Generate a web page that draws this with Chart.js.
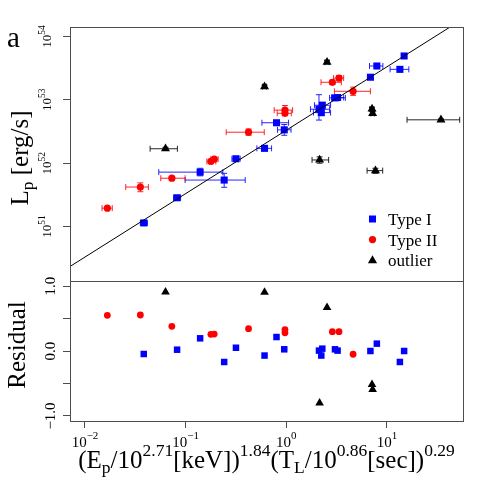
<!DOCTYPE html>
<html>
<head>
<meta charset="utf-8">
<script src="https://cdn.jsdelivr.net/npm/chart.js@4.4.1/dist/chart.umd.min.js"></script>
<style>
  html, body { margin: 0; padding: 0; background: #fff; }
  #wrap { position: relative; width: 491px; height: 491px; }
  #wrap canvas { position: absolute; left: 0; top: 0; }
</style>
</head>
<body>
<div id="wrap">
  <canvas id="resid" width="491" height="491"></canvas>
  <canvas id="main" width="491" height="491"></canvas>
</div>
<script>
// ===== DATA (log10 values) =====
const xTickVals = [1e-2, 1e-1, 1, 10];
const xTickExps = ['\u22122', '\u22121', '0', '1'];
const yTickVals = [1e51, 1e52, 1e53, 1e54];
const yTickExps = ['51', '52', '53', '54'];
const resTickVals = [-1, -0.5, 0, 0.5, 1];
const resTickLabels = ['\u22121.0', '', '0.0', '', '1.0'];

// best-fit line: log Lp = fitNorm + fitSlope * log x
const fitNorm = 52.52;
const fitSlope = 1;
const fitLogX = [-3, 2];

// Type I (blue squares)
const t1LogX = [-1.416, -1.085, -0.856, -0.617, -0.500, -0.216, -0.097, -0.020, 0.325, 0.348, 0.358, 0.484, 0.510, 0.836, 0.900, 1.129, 1.171];
const t1LogL = [51.058, 51.455, 51.859, 51.734, 52.070, 52.234, 52.638, 52.526, 52.851, 52.798, 52.914, 53.030, 53.036, 53.356, 53.533, 53.480, 53.691];
const t1Res  = [-0.046, 0.020, 0.195, -0.169, 0.050, -0.070, 0.215, 0.026, 0.006, -0.070, 0.036, 0.026, 0.006, 0.000, 0.113, -0.169, 0.000];
const t1XLo  = [-1.45, -1.12, -1.267, -1.005, -0.54, -0.292, -0.242, -0.087, 0.24, 0.27, 0.28, 0.43, 0.45, 0.81, 0.827, 1.032, 1.15];
const t1XHi  = [-1.38, -1.05, -0.630, -0.408, -0.458, -0.146, 0.023, 0.047, 0.43, 0.44, 0.44, 0.587, 0.57, 0.86, 0.96, 1.218, 1.19];
const t1YLo  = [51.03, 51.43, 51.80, 51.62, 52.04, 52.20, 52.61, 52.44, 52.68, 52.75, 52.86, 53.00, 53.00, 53.33, 53.50, 53.45, 53.67];
const t1YHi  = [51.09, 51.48, 51.92, 51.84, 52.10, 52.26, 52.67, 52.61, 53.08, 52.85, 52.96, 53.06, 53.07, 53.38, 53.56, 53.51, 53.71];

// Type II (red circles)
const t2LogX = [-1.778, -1.450, -1.137, -0.749, -0.716, -0.375, -0.013, -0.013, 0.458, 0.524, 0.664];
const t2LogL = [51.291, 51.624, 51.763, 52.028, 52.064, 52.489, 52.837, 52.787, 53.276, 53.342, 53.134];
const t2Res  = [0.549, 0.554, 0.380, 0.257, 0.260, 0.344, 0.330, 0.280, 0.298, 0.298, -0.050];
const t2XLo  = [-1.831, -1.595, -1.247, -0.789, -0.75, -0.597, -0.12, -0.09, 0.345, 0.47, 0.478];
const t2XHi  = [-1.729, -1.370, -1.005, -0.70, -0.677, -0.219, 0.063, 0.05, 0.547, 0.57, 0.836];
const t2YLo  = [51.27, 51.55, 51.73, 52.00, 52.03, 52.44, 52.76, 52.75, 53.24, 53.30, 53.07];
const t2YHi  = [51.31, 51.69, 51.79, 52.06, 52.09, 52.54, 52.91, 52.83, 53.31, 53.38, 53.20];

// outliers (black triangles)
const olLogX = [-1.200, -0.216, 0.405, 0.331, 0.852, 0.858, 1.537, 0.886];
const olLogL = [52.228, 53.207, 53.593, 52.051, 52.855, 52.784, 52.684, 51.883];
const olRes  = [0.908, 0.903, 0.668, -0.800, -0.517, -0.594, -1.373, -1.523];
const olXLo  = [-1.353, -0.236, 0.385, 0.256, 0.83, 0.84, 1.200, 0.803];
const olXHi  = [-1.082, -0.196, 0.425, 0.421, 0.87, 0.875, 1.723, 0.958];
const olYLo  = [52.21, 53.18, 53.57, 52.00, 52.83, 52.76, 52.66, 51.84];
const olYHi  = [52.25, 53.23, 53.62, 52.10, 52.88, 52.81, 52.70, 51.92];

// axis ranges (log10)
const xLogMin = -2.149, xLogMax = 1.756;
const yLogMin = 50.142, yLogMax = 54.148;
const resMin = -1.077, resMax = 1.077;

// ===== HELPERS =====
const SERIF = '"Liberation Serif", "DejaVu Serif", serif';
const BLUE = '#0000ff', RED = '#ff0000', BLACK = '#000000';
const FRAME = '#4d4d4d';

const pts = (lx, ly) => lx.map((v, i) => ({ x: 10 ** v, y: 10 ** ly[i] }));
const resPts = (lx, r) => lx.map((v, i) => ({ x: 10 ** v, y: r[i] }));

// draw a run of text pieces (for super/subscripts)
function drawRuns(ctx, runs, x, y, align) {
    let w = 0;
    runs.forEach(r => {
        ctx.font = r.size + 'px ' + SERIF;
        r.w = ctx.measureText(r.t).width;
        w += r.w;
    });
    let cx = align === 'center' ? x - w / 2 : align === 'right' ? x - w : x;
    ctx.textAlign = 'left';
    ctx.textBaseline = 'alphabetic';
    runs.forEach(r => {
        ctx.font = r.size + 'px ' + SERIF;
        ctx.fillText(r.t, cx, y + (r.dy || 0));
        cx += r.w;
    });
}

function drawRotated(ctx, runs, x, y) {
    ctx.save();
    ctx.translate(x, y);
    ctx.rotate(-Math.PI / 2);
    drawRuns(ctx, runs, 0, 0, 'center');
    ctx.restore();
}

function markerPath(ctx, style, x, y) {
    ctx.beginPath();
    if (style === 'rect') ctx.rect(x - 3.5, y - 3.5, 7, 7);
    else if (style === 'circle') ctx.arc(x, y, 3.6, 0, Math.PI * 2);
    else {
        ctx.moveTo(x, y - 5);
        ctx.lineTo(x + 4.6, y + 3);
        ctx.lineTo(x - 4.6, y + 3);
        ctx.closePath();
    }
}

// ===== PLUGINS =====
const frame = {
    id: 'frame',
    afterDraw(chart) {
        const { ctx, chartArea: a } = chart;
        ctx.save();
        ctx.strokeStyle = FRAME;
        ctx.lineWidth = 1;
        ctx.strokeRect(Math.round(a.left) + 0.5, Math.round(a.top) + 0.5,
            Math.round(a.width), Math.round(a.height));
        ctx.restore();
    }
};

const errorBars = {
    id: 'errorBars',
    beforeDatasetsDraw(chart, args, opts) {
        const { ctx, chartArea: a, scales: { x, y } } = chart;
        const cap = 3;
        ctx.save();
        ctx.beginPath();
        ctx.rect(a.left, a.top, a.width, a.height);
        ctx.clip();
        ctx.lineWidth = 1;
        opts.sets.forEach(s => {
            ctx.strokeStyle = s.color;
            s.logX.forEach((lx, i) => {
                const px = x.getPixelForValue(10 ** lx);
                const py = y.getPixelForValue(10 ** s.logL[i]);
                const x0 = x.getPixelForValue(10 ** s.xLo[i]);
                const x1 = x.getPixelForValue(10 ** s.xHi[i]);
                const y0 = y.getPixelForValue(10 ** s.yLo[i]);
                const y1 = y.getPixelForValue(10 ** s.yHi[i]);
                ctx.beginPath();
                ctx.moveTo(x0, py); ctx.lineTo(x1, py);
                ctx.moveTo(x0, py - cap); ctx.lineTo(x0, py + cap);
                ctx.moveTo(x1, py - cap); ctx.lineTo(x1, py + cap);
                ctx.moveTo(px, y0); ctx.lineTo(px, y1);
                ctx.moveTo(px - cap, y0); ctx.lineTo(px + cap, y0);
                ctx.moveTo(px - cap, y1); ctx.lineTo(px + cap, y1);
                ctx.stroke();
            });
        });
        ctx.restore();
    }
};

const mainText = {
    id: 'mainText',
    afterDraw(chart) {
        const { ctx, chartArea: a, scales: { y } } = chart;
        ctx.save();
        ctx.fillStyle = '#000';
        // y tick labels (rotated, 10^n)
        yTickVals.forEach((v, i) => {
            drawRotated(ctx, [
                { t: '10', size: 13 },
                { t: yTickExps[i], size: 9.5, dy: -6 }
            ], 51, y.getPixelForValue(v));
        });
        // y axis title
        drawRotated(ctx, [
            { t: 'L', size: 25 },
            { t: 'p', size: 17.5, dy: 5 },
            { t: ' [erg/s]', size: 25 }
        ], 28, 158);
        // panel tag
        ctx.font = '29px ' + SERIF;
        ctx.textAlign = 'left';
        ctx.fillText('a', 7, 47);
        // legend
        const items = [
            { label: 'Type I', style: 'rect', color: BLUE },
            { label: 'Type II', style: 'circle', color: RED },
            { label: 'outlier', style: 'tri', color: BLACK }
        ];
        items.forEach((it, i) => {
            const cy = a.bottom - 62 + i * 20.6;
            ctx.fillStyle = it.color;
            markerPath(ctx, it.style, 372.5, cy);
            ctx.fill();
            ctx.fillStyle = '#000';
            drawRuns(ctx, [{ t: it.label, size: 17 }], 388, cy + 6, 'left');
        });
        ctx.restore();
    }
};

const residText = {
    id: 'residText',
    afterDraw(chart) {
        const { ctx, chartArea: a, scales: { x, y } } = chart;
        ctx.save();
        ctx.fillStyle = '#000';
        resTickVals.forEach((v, i) => {
            if (!resTickLabels[i]) return;
            drawRotated(ctx, [{ t: resTickLabels[i], size: 15 }], 55, y.getPixelForValue(v));
        });
        drawRotated(ctx, [{ t: 'Residual', size: 25 }], 25, 345);
        xTickVals.forEach((v, i) => {
            drawRuns(ctx, [
                { t: '10', size: 15 },
                { t: xTickExps[i], size: 11, dy: -8 }
            ], x.getPixelForValue(v), 447, 'center');
        });
        drawRuns(ctx, [
            { t: '(E', size: 25 },
            { t: 'p', size: 17.5, dy: 5 },
            { t: '/10', size: 25 },
            { t: '2.71', size: 17.5, dy: -12 },
            { t: '[keV])', size: 25 },
            { t: '1.84', size: 17.5, dy: -12 },
            { t: '(T', size: 25 },
            { t: 'L', size: 17.5, dy: 5 },
            { t: '/10', size: 25 },
            { t: '0.86', size: 17.5, dy: -12 },
            { t: '[sec])', size: 25 },
            { t: '0.29', size: 17.5, dy: -12 }
        ], (a.left + a.right) / 2, 468, 'center');
        ctx.restore();
    }
};

// ===== CHARTS =====
const tickGrid = {
    drawOnChartArea: false, drawTicks: true, tickLength: 7,
    color: FRAME, tickColor: FRAME, lineWidth: 1
};

const scatterSet = (label, data, style, color, radius) => ({
    type: 'scatter', label, data,
    pointStyle: style, pointRadius: radius,
    backgroundColor: color, borderColor: color, borderWidth: 0
});

new Chart(document.getElementById('main'), {
    data: {
        datasets: [
            {
                type: 'line', label: 'fit',
                data: fitLogX.map(v => ({ x: 10 ** v, y: 10 ** (fitNorm + fitSlope * v) })),
                borderColor: '#000', borderWidth: 1, pointRadius: 0, fill: false
            },
            scatterSet('Type I', pts(t1LogX, t1LogL), 'rect', BLUE, 5),
            scatterSet('Type II', pts(t2LogX, t2LogL), 'circle', RED, 3.6),
            scatterSet('outlier', pts(olLogX, olLogL), 'triangle', BLACK, 5.2)
        ]
    },
    options: {
        responsive: false, animation: false, events: [],
        layout: { padding: { left: 70, right: 28, top: 27, bottom: 210 } },
        plugins: {
            legend: { display: false }, tooltip: { enabled: false },
            errorBars: {
                sets: [
                    { color: 'rgba(0,0,255,0.85)', logX: t1LogX, logL: t1LogL, xLo: t1XLo, xHi: t1XHi, yLo: t1YLo, yHi: t1YHi },
                    { color: 'rgba(255,0,0,0.85)', logX: t2LogX, logL: t2LogL, xLo: t2XLo, xHi: t2XHi, yLo: t2YLo, yHi: t2YHi },
                    { color: 'rgba(0,0,0,0.85)', logX: olLogX, logL: olLogL, xLo: olXLo, xHi: olXHi, yLo: olYLo, yHi: olYHi }
                ]
            }
        },
        scales: {
            x: { type: 'logarithmic', display: false, min: 10 ** xLogMin, max: 10 ** xLogMax },
            y: {
                type: 'logarithmic', min: 10 ** yLogMin, max: 10 ** yLogMax,
                grid: tickGrid, border: { display: false }, ticks: { display: false },
                afterBuildTicks: s => { s.ticks = yTickVals.map(v => ({ value: v })); },
                afterFit: s => { s.width = 0; }
            }
        }
    },
    plugins: [errorBars, frame, mainText]
});

new Chart(document.getElementById('resid'), {
    data: {
        datasets: [
            scatterSet('Type I', resPts(t1LogX, t1Res), 'rect', BLUE, 4.6),
            scatterSet('Type II', resPts(t2LogX, t2Res), 'circle', RED, 3.4),
            scatterSet('outlier', resPts(olLogX, olRes), 'triangle', BLACK, 5)
        ]
    },
    options: {
        responsive: false, animation: false, events: [],
        layout: { padding: { left: 70, right: 28, top: 281, bottom: 70 } },
        plugins: { legend: { display: false }, tooltip: { enabled: false } },
        scales: {
            x: {
                type: 'logarithmic', min: 10 ** xLogMin, max: 10 ** xLogMax,
                grid: tickGrid, border: { display: false }, ticks: { display: false },
                afterBuildTicks: s => { s.ticks = xTickVals.map(v => ({ value: v })); },
                afterFit: s => { s.height = 0; }
            },
            y: {
                type: 'linear', min: resMin, max: resMax,
                grid: tickGrid, border: { display: false }, ticks: { display: false },
                afterBuildTicks: s => { s.ticks = resTickVals.map(v => ({ value: v })); },
                afterFit: s => { s.width = 0; }
            }
        }
    },
    plugins: [frame, residText]
});
</script>
</body>
</html>
